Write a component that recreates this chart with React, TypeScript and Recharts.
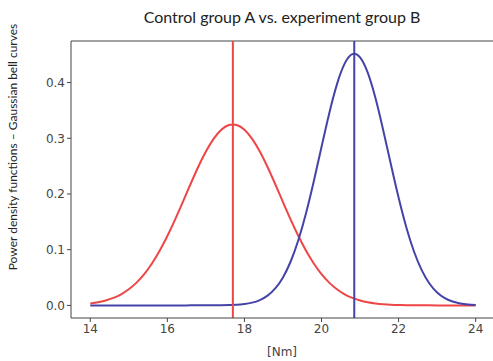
import { LineChart, Line, XAxis, YAxis, ReferenceLine } from 'recharts'

// x positions in Nm
const torque = [
  14.0, 14.2, 14.4, 14.6, 14.8, 15.0, 15.2, 15.4, 15.6, 15.8,
  16.0, 16.2, 16.4, 16.6, 16.8, 17.0, 17.2, 17.4, 17.6, 17.8,
  18.0, 18.2, 18.4, 18.6, 18.8, 19.0, 19.2, 19.4, 19.6, 19.8,
  20.0, 20.2, 20.4, 20.6, 20.8, 21.0, 21.2, 21.4, 21.6, 21.8,
  22.0, 22.2, 22.4, 22.6, 22.8, 23.0, 23.2, 23.4, 23.6, 23.8, 24.0,
]

// control group A (red)
const groupA = [
  0.0035, 0.0056, 0.0088, 0.0134, 0.0200, 0.0290, 0.0409, 0.0562, 0.0753, 0.0981,
  0.1246, 0.1541, 0.1855, 0.2175, 0.2484, 0.2762, 0.2990, 0.3153, 0.3238, 0.3238,
  0.3153, 0.2990, 0.2762, 0.2484, 0.2175, 0.1855, 0.1541, 0.1246, 0.0981, 0.0753,
  0.0562, 0.0409, 0.0290, 0.0200, 0.0134, 0.0088, 0.0056, 0.0035, 0.0021, 0.0012,
  0.0007, 0.0004, 0.0002, 0.0001, 0.0001, 0.0, 0.0, 0.0, 0.0, 0.0, 0.0,
]

// experiment group B (blue)
const groupB = [
  0.0, 0.0, 0.0, 0.0, 0.0, 0.0, 0.0, 0.0, 0.0, 0.0,
  0.0, 0.0, 0.0, 0.0001, 0.0001, 0.0002, 0.0003, 0.0005, 0.0008, 0.0012,
  0.0025, 0.0050, 0.0096, 0.0176, 0.0305, 0.0503, 0.0788, 0.1173, 0.1659, 0.2228,
  0.2843, 0.3446, 0.3968, 0.4340, 0.4511, 0.4453, 0.4177, 0.3721, 0.3149, 0.2533,
  0.1935, 0.1404, 0.0968, 0.0634, 0.0394, 0.0233, 0.0131, 0.0070, 0.0035, 0.0017, 0.0008,
]

const meanA = 17.7
const meanB = 20.85

const xTicks = [14, 16, 18, 20, 22, 24]
const yTicks = [0, 0.1, 0.2, 0.3, 0.4]

const RED = '#ee4646'
const BLUE = '#4444a8'
const AXIS = '#444'

const data = torque.map((x, i) => ({ x, a: groupA[i], b: groupB[i] }))

const tickStyle = { fontSize: 12, fill: '#444', fontFamily: 'DejaVu Sans' }

export default function App() {
  return (
    <div style={{ position: 'absolute', left: 0, top: 0, width: 493, height: 361, background: '#fff', overflow: 'hidden' }}>
      <div
        style={{
          position: 'absolute', left: 71, width: 422, top: 7, textAlign: 'center',
          fontFamily: 'Lato', fontSize: 16, color: '#222',
        }}
      >
        Control group A vs. experiment group B
      </div>
      <div
        style={{
          position: 'absolute', left: 13, top: 147, width: 260, marginLeft: -130,
          transform: 'rotate(-90deg)', textAlign: 'center',
          fontFamily: 'Lato', fontSize: 12, color: '#222', lineHeight: '14px', marginTop: -7,
        }}
      >
        Power density functions – Gaussian bell curves
      </div>
      <LineChart width={493} height={361} data={data} margin={{ top: 41, right: 0, bottom: 13, left: 0 }}>
        <XAxis
          dataKey="x"
          type="number"
          domain={[13.5, 24.45]}
          ticks={xTicks}
          allowDataOverflow
          height={30}
          tickSize={4}
          stroke={AXIS}
          tick={tickStyle}
          label={{ value: '[Nm]', position: 'insideBottom', offset: -8, style: { fontFamily: 'DejaVu Sans', fontSize: 12, fill: '#444' } }}
        />
        <YAxis
          type="number"
          domain={[-0.0226, 0.4746]}
          ticks={yTicks}
          allowDataOverflow
          width={71}
          tickSize={4}
          stroke={AXIS}
          tick={tickStyle}
          tickFormatter={(v: number) => v.toFixed(1)}
        />
        <ReferenceLine y={0.4746} stroke={AXIS} strokeWidth={1} />
        <Line dataKey="a" type="natural" stroke={RED} strokeWidth={2} dot={false} isAnimationActive={false} />
        <Line dataKey="b" type="natural" stroke={BLUE} strokeWidth={2} dot={false} isAnimationActive={false} />
        <ReferenceLine x={meanA} stroke={RED} strokeWidth={2} />
        <ReferenceLine x={meanB} stroke={BLUE} strokeWidth={2} />
      </LineChart>
    </div>
  )
}
